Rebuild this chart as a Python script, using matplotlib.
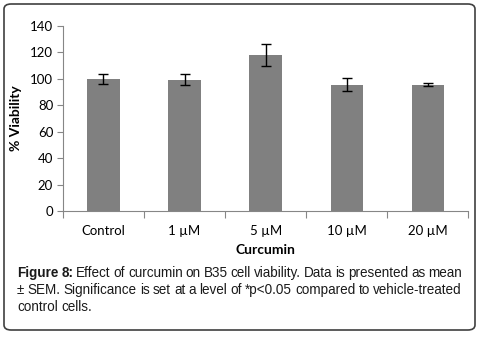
import matplotlib.pyplot as plt
from matplotlib.patches import FancyBboxPatch

# data
groups = ['Control', '1 µM', '5 µM', '10 µM', '20 µM']
viability = [100, 99.3, 118.2, 95.5, 95.5]
sem = [3.8, 4.2, 8.4, 4.8, 1.3]

axis_font = 'Lato'
cap_font = 'Liberation Sans'
spine_col = '#868686'

fig = plt.figure(figsize=(4.8, 3.37), dpi=100)
ax = fig.add_axes([0.131, 0.374, 0.845, 0.549])

x = list(range(len(groups)))
ax.bar(x, viability, width=0.4, color='#808080', zorder=2)
ax.errorbar(x, viability, yerr=sem, fmt='none', ecolor='black',
            elinewidth=1, capsize=3.6, capthick=1, zorder=3)

ax.set_xlim(-0.5, len(groups) - 0.5)
ax.set_ylim(0, 140)
ax.set_yticks(range(0, 141, 20))
ax.set_xticks([i - 0.5 for i in range(len(groups) + 1)])
ax.set_xticklabels([])
ax.set_xticks(x, minor=True)
ax.set_xticklabels(groups, minor=True, fontfamily=axis_font, fontsize=9.5)
ax.tick_params(axis='x', which='minor', length=0, pad=10)
ax.tick_params(axis='x', which='major', length=5, color=spine_col)
ax.tick_params(axis='y', length=4, color=spine_col, pad=3)
for lab in ax.get_yticklabels():
    lab.set_fontfamily(axis_font)
    lab.set_fontsize(9.5)

for s in ['top', 'right']:
    ax.spines[s].set_visible(False)
for s in ['left', 'bottom']:
    ax.spines[s].set_color(spine_col)

ax.set_ylabel('% Viability', fontfamily=axis_font, fontweight='bold',
              fontsize=10, labelpad=6)
ax.set_xlabel('Curcumin', fontfamily=axis_font, fontweight='bold',
              fontsize=10, labelpad=5)

# rounded frame around the whole figure
frame = FancyBboxPatch((4 / 480, 7 / 337), 471 / 480, 326 / 337,
                       boxstyle='round,pad=0,rounding_size=0.015',
                       transform=fig.transFigure, fill=False,
                       edgecolor='#404040', linewidth=1.2)
fig.patches.append(frame)

# caption, justified by hand
renderer = fig.canvas.get_renderer()
left, right = 17 / 480, 462 / 480


def width_of(txt, **kw):
    t = fig.text(0, 0, txt, **kw)
    w = t.get_window_extent(renderer).width
    t.remove()
    return w / fig.bbox.width


def draw_line(pieces, y, justify=True):
    # pieces: list of (word, props); words are spaced to fill the line
    widths = [width_of(w, **p) for w, p in pieces]
    if justify and len(pieces) > 1:
        gap = (right - left - sum(widths)) / (len(pieces) - 1)
    else:
        gap = width_of('a', **norm) * 0.5
    xpos = left
    for (w, p), wd in zip(pieces, widths):
        fig.text(xpos, y, w, va='baseline', **p)
        xpos += wd + gap


norm = dict(fontfamily=cap_font, fontsize=9.75, color='#1a1a1a')
bold = dict(norm, fontweight='bold')

line1 = 'Effect of curcumin on B35 cell viability. Data is presented as mean'.split()
line2 = '± SEM. Significance is set at a level of *p<0.05 compared to vehicle-treated'.split()
line3 = 'control cells.'.split()

draw_line([('Figure', bold), ('8:', bold)] + [(w, norm) for w in line1], 1 - 277 / 337)
draw_line([(w, norm) for w in line2], 1 - 294 / 337)
draw_line([(w, norm) for w in line3], 1 - 311 / 337, justify=False)

fig.savefig('out.png', dpi=100)
